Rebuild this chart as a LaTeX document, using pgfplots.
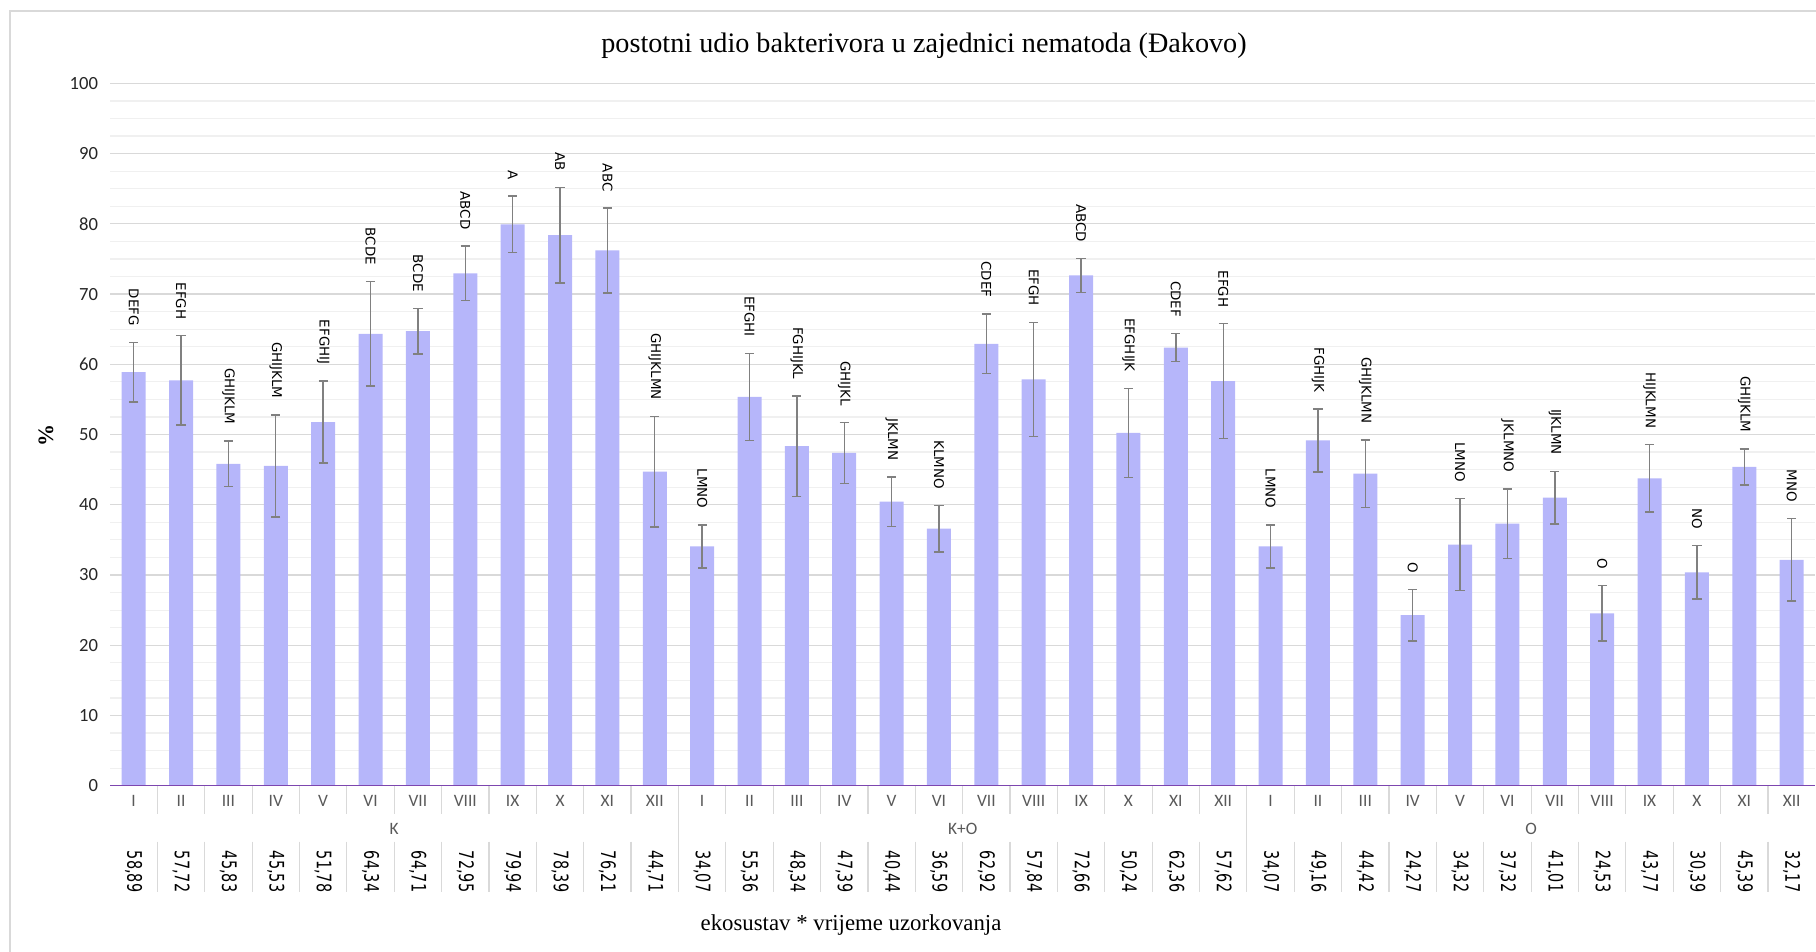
\documentclass[border=0pt]{standalone}
\usepackage{pgfplots}
\pgfplotsset{compat=1.18}
\usepackage{pgfplotstable}
\usepackage{fontspec}
\setmainfont{Liberation Serif}
\newfontfamily\lblfont{DejaVu Sans}
\newfontfamily\numfont[FakeStretch=0.72]{DejaVu Sans}
\newfontfamily\calfont{Carlito}
\definecolor{barc}{RGB}{182,182,250}
\definecolor{errc}{RGB}{128,128,128}
\definecolor{axc}{RGB}{125,70,175}
\definecolor{gridmaj}{RGB}{217,217,217}
\definecolor{gridmin}{RGB}{240,240,240}
\definecolor{sepc}{RGB}{217,217,217}

\pgfplotstableread{
x v e lab
0 58.89 4.25 DEFG
1 57.72 6.35 EFGH
2 45.83 3.25 GHIJKLM
3 45.53 7.25 GHIJKLM
4 51.78 5.85 EFGHIJ
5 64.34 7.45 BCDE
6 64.71 3.25 BCDE
7 72.95 3.9 ABCD
8 79.94 4.05 A
9 78.39 6.8 AB
10 76.21 6.05 ABC
11 44.71 7.9 GHIJKLMN
12 34.07 3.05 LMNO
13 55.36 6.2 EFGHI
14 48.34 7.15 FGHIJKL
15 47.39 4.35 GHIJKL
16 40.44 3.5 JKLMN
17 36.59 3.3 KLMNO
18 62.92 4.25 CDEF
19 57.84 8.1 EFGH
20 72.66 2.4 ABCD
21 50.24 6.35 EFGHIJK
22 62.36 2.0 CDEF
23 57.62 8.15 EFGH
24 34.07 3.05 LMNO
25 49.16 4.5 FGHIJK
26 44.42 4.8 GHIJKLMN
27 24.27 3.65 O
28 34.32 6.55 LMNO
29 37.32 4.95 JKLMNO
30 41.01 3.75 IJKLMN
31 24.53 3.95 O
32 43.77 4.8 HIJKLMN
33 30.39 3.8 NO
34 45.39 2.55 GHIJKLM
35 32.17 5.9 MNO
}\data

\begin{document}
\begin{tikzpicture}
\useasboundingbox (0,0) rectangle (908pt,476pt);
\draw[gridmaj, line width=0.8pt] (5pt,0) -- (5pt,470.5pt) -- (908pt,470.5pt);
\node[font=\fontsize{14.1}{16}\selectfont] at (462pt,453pt) {postotni udio bakterivora u zajednici nematoda (Đakovo)};
\node[font=\fontsize{11.4}{13}\selectfont] at (425.5pt,13.5pt) {ekosustav * vrijeme uzorkovanja};
\node[font=\bfseries\fontsize{11}{13}\selectfont, rotate=90] at (23pt,258pt) {\%};
\begin{axis}[
  at={(55pt,83.15pt)}, anchor=south west, scale only axis,
  width=852.66pt, height=351.15pt,
  xmin=-0.5, xmax=35.5, ymin=0, ymax=100,
  clip=false,
  axis line style={draw=none},
  xtick={0,...,35},
  xticklabels={I,II,III,IV,V,VI,VII,VIII,IX,X,XI,XII,I,II,III,IV,V,VI,VII,VIII,IX,X,XI,XII,I,II,III,IV,V,VI,VII,VIII,IX,X,XI,XII},
  xticklabel style={font=\calfont\fontsize{8.7}{10}\selectfont, text=black!65, anchor=center, yshift=-7.5pt},
  ytick={0,10,...,100},
  minor y tick num=3,
  ymajorgrids, yminorgrids,
  major grid style={gridmaj, line width=0.6pt},
  minor grid style={gridmin, line width=0.6pt},
  major tick length=0pt, minor tick length=0pt,
  yticklabel style={font=\calfont\fontsize{9.3}{11}\selectfont, text=black!85, anchor=east, xshift=-2.5pt},
  /pgf/number format/assume math mode=true,
]
\addplot[ybar, bar width=12pt, fill=barc, draw=none,
  error bars/.cd, y dir=both, y explicit,
  error bar style={errc, line width=0.7pt},
  error mark options={rotate=90, errc, mark size=2.3pt, line width=0.7pt}]
  table[x=x, y=v, y error=e] {\data};
\addplot[draw=none, mark=none, nodes near coords, point meta=explicit symbolic,
  nodes near coords style={font=\lblfont\fontsize{6.7}{7}\selectfont, rotate=-90, anchor=east, inner sep=0pt}]
  table[x=x, y expr=\thisrow{v}+\thisrow{e}+2.3, meta=lab] {\data};
\addplot[draw=none, mark=none,
  nodes near coords={\pgfmathprintnumber[fixed,fixed zerofill,precision=2,use comma]{\pgfplotspointmeta}},
  point meta=explicit,
  nodes near coords style={font=\numfont\fontsize{10}{11}\selectfont, rotate=-90, anchor=center, inner sep=0pt}]
  table[x=x, y expr=-12.23, meta=v] {\data};
\pgfplotsinvokeforeach{0.5,1.5,...,34.5}{
  \draw[sepc, line width=0.6pt] (axis cs:#1,0) -- ([yshift=-14pt]axis cs:#1,0);
  \draw[sepc, line width=0.6pt] ([yshift=-28pt]axis cs:#1,0) -- ([yshift=-53pt]axis cs:#1,0);
}
\draw[sepc, line width=0.6pt] (axis cs:11.5,0) -- ([yshift=-53pt]axis cs:11.5,0);
\draw[sepc, line width=0.6pt] (axis cs:23.5,0) -- ([yshift=-53pt]axis cs:23.5,0);
\node[font=\calfont\fontsize{8.7}{10}\selectfont, text=black!65] at ([yshift=-21.7pt]axis cs:5.5,0) {K};
\node[font=\calfont\fontsize{8.7}{10}\selectfont, text=black!65] at ([yshift=-21.7pt]axis cs:17.5,0) {K+O};
\node[font=\calfont\fontsize{8.7}{10}\selectfont, text=black!65] at ([yshift=-21.7pt]axis cs:29.5,0) {O};
\draw[axc, line width=0.8pt] (axis cs:-0.5,0) -- (axis cs:35.5,0);
\end{axis}
\end{tikzpicture}
\end{document}
